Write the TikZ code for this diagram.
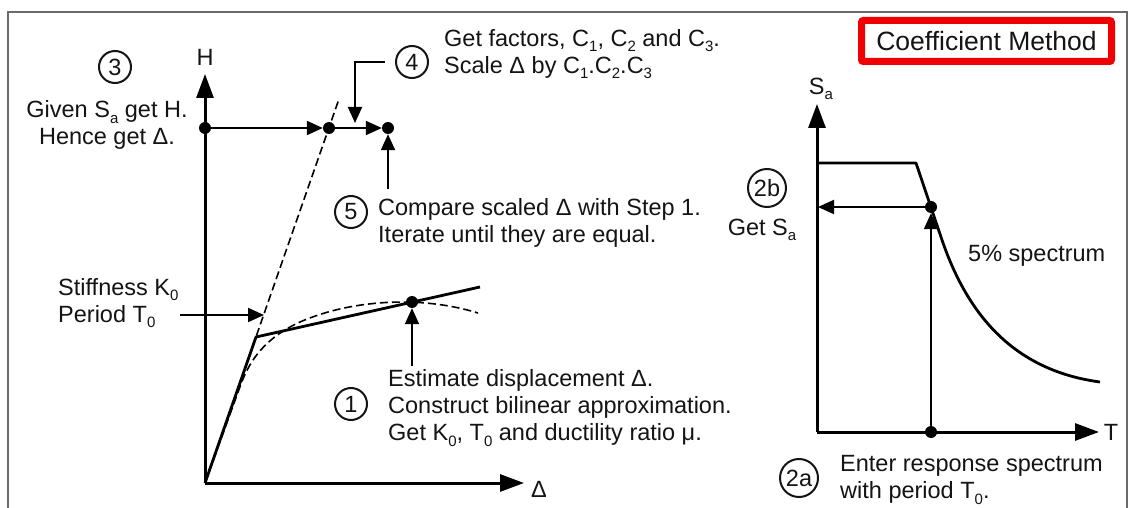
\documentclass[tikz,border=0pt]{standalone}
\usepackage{fontspec}
\setmainfont{Liberation Sans}
\usetikzlibrary{arrows.meta}
\newcommand\fs{\fontsize{23.5}{27}\selectfont}
\newcommand\sbs[1]{\raisebox{-5.5pt}{\fontsize{15}{15}\selectfont #1}}
\definecolor{ink}{HTML}{141414}
\definecolor{framegray}{HTML}{6A6A6A}
\definecolor{boxred}{HTML}{F00000}
\begin{document}
\begin{tikzpicture}[x=1pt,y=-1pt,
  lbl/.style={font=\fs, text=ink, inner sep=0pt, align=left},
  num/.style={draw=ink, circle, line width=2pt, minimum size=32pt, inner sep=0pt, font=\fs, text=ink},
  numw/.style={num, minimum size=38pt},
  dot/.style={circle, fill=black, minimum size=12pt, inner sep=0pt},
  axis/.style={line width=3pt, -{Triangle[length=24pt,width=17pt]}},
  arr/.style={line width=2pt, -{Triangle[length=16pt,width=14pt]}},
  curve/.style={line width=2.8pt, line join=round},
  dashline/.style={line width=1.6pt, dash pattern=on 8pt off 4pt},
]
\useasboundingbox (0,0) rectangle (1128,508);
\fill[white] (0,0) rectangle (1128,508);
% frame
\draw[framegray, line width=2pt] (8,508) -- (8,12) -- (1127,12) -- (1127,508);

% ---------- left chart ----------
\coordinate (O) at (205,483);
\coordinate (Htip) at (205,74);
\coordinate (Dtip) at (524,483);
\node[lbl] (Hl) at (205,57) {H};
\node[lbl] (Dl) at (539,489) {Δ};
\draw[axis] (O) -- (Htip);
\draw[axis] (O) -- (Dtip);

% initial stiffness (dashed) and bilinear / actual curves
\draw[dashline] (O) -- (339,99);
\draw[dashline] (O) -- (241,384) .. controls (250,360) and (265,338) .. (300,322)
                    .. controls (350,300) and (420,295) .. (478,313);
\draw[curve] (O) -- (256,337) -- (480,287);

\node[dot] (h0) at (205,128) {};
\node[dot] (h1) at (329,128) {};
\node[dot] (h2) at (388,128) {};
\node[dot] (d1) at (412,302) {};
\draw[arr] (h0) -- (h1);
\draw[arr] (h1) -- (h2);

% step 3
\node[num] (n3) at (115,67) {3};
\node[lbl, align=center] (t3) at (107,125) {Given S\sbs{a} get H.\\Hence get Δ.};

% step 4
\node[num] (n4) at (412,62) {4};
\node[lbl, anchor=west] (t4) at (444,54) {Get factors, C\sbs{1}, C\sbs{2} and C\sbs{3}.\\Scale Δ by C\sbs{1}.C\sbs{2}.C\sbs{3}};
\coordinate (c4) at (355,123);
\draw[arr] ([xshift=-10pt]n4.west) -| (c4);

% step 5
\node[num] (n5) at (351,212) {5};
\node[lbl, anchor=west] (t5) at (378,223) {Compare scaled Δ with Step 1.\\Iterate until they are equal.};
\coordinate (c5) at (388,189);
\draw[arr] (c5) -- (h2);

% step 1
\node[num] (n1) at (351,404) {1};
\node[lbl, anchor=west] (t1) at (388,408) {Estimate displacement Δ.\\Construct bilinear approximation.\\Get K\sbs{0}, T\sbs{0} and ductility ratio μ.};
\coordinate (c1) at (412,366);
\draw[arr] (c1) -- (d1);

% stiffness label
\node[lbl, anchor=west] (ts) at (58,303) {Stiffness K\sbs{0}\\Period T\sbs{0}};
\coordinate (cs) at (180,315);
\coordinate (ks) at (264,315);
\draw[arr] (cs) -- (ks);

% ---------- right chart ----------
\coordinate (O2) at (817,432);
\coordinate (Stip) at (817,104);
\coordinate (Ttip) at (1099,432);
\node[lbl] (Sl) at (821,89) {S\sbs{a}};
\node[lbl] (Tl) at (1111,432) {T};
\draw[axis] (O2) -- (Stip);
\draw[axis] (O2) -- (Ttip);
\draw[curve] (817,163) -- (916,163) -- (942,240) .. controls (966,310) and (1010,370) .. (1100,382);

\node[dot] (s1) at (931,207) {};
\node[dot] (s0) at (931,432) {};
\coordinate (sa) at (818,207);
\draw[arr] (s0) -- (s1);
\draw[arr] (s1) -- (sa);

\node[numw] (n2b) at (767,188) {2b};
\node[lbl] (t2b) at (762,230) {Get S\sbs{a}};
\node[lbl, anchor=west] (tsp) at (968,256) {5\% spectrum};

\node[numw] (n2a) at (799,478) {2a};
\node[lbl, anchor=west] (t2a) at (840,480) {Enter response spectrum\\with period T\sbs{0}.};

% title
\node[draw=boxred, line width=7pt, rounded corners=2pt, minimum width=250pt, minimum height=41pt,
      inner sep=0pt, font=\fontsize{26.5}{30}\selectfont, text=ink] (title) at (986.5,41) {Coefficient Method};
\end{tikzpicture}
\end{document}
